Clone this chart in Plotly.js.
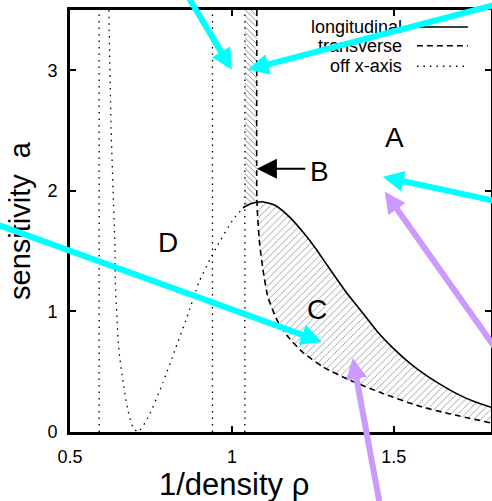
<!DOCTYPE html>
<html><head><meta charset="utf-8">
<script src="https://cdn.plot.ly/plotly-3.0.1.min.js"></script>
<style>html,body{margin:0;padding:0;background:#fff}#chart{width:492px;height:501px}</style>
</head><body><div id="chart"></div>
<script>
// ---- data ----
const rhoRange = [0.5, 1.8];
const aRange = [0, 3.5];
const xTicks = [0.5, 1, 1.5];
const xTickLabels = ['0.5', '1', '1.5'];
const yTicks = [0, 1, 2, 3];
const yTickLabels = ['0', '1', '2', '3'];

// longitudinal (solid)
const longRho = [1.034, 1.056, 1.077, 1.093, 1.133, 1.179, 1.225, 1.262, 1.30, 1.35, 1.40, 1.45, 1.50, 1.55, 1.60, 1.65, 1.70, 1.75, 1.8];
const longA   = [1.86, 1.89, 1.905, 1.91, 1.88, 1.78, 1.64, 1.51, 1.36, 1.17, 1.00, 0.83, 0.69, 0.57, 0.47, 0.385, 0.31, 0.25, 0.205];

// transverse (dashed)
const transRho = [1.077, 1.077, 1.080, 1.086, 1.096, 1.111, 1.139, 1.170, 1.219, 1.281, 1.364, 1.466, 1.571, 1.673, 1.8];
const transA   = [3.5, 1.93, 1.76, 1.55, 1.344, 1.12, 0.93, 0.80, 0.66, 0.54, 0.43, 0.32, 0.22, 0.15, 0.075];

// off x-axis (dotted) curve around region D
const dRho = [0.620, 0.627, 0.633, 0.639, 0.640, 0.645, 0.651, 0.664, 0.679, 0.694, 0.710, 0.741, 0.787, 0.824, 0.861, 0.898, 0.932, 0.954, 1.003, 1.049];
const dA   = [3.5, 2.51, 2.01, 1.51, 1.24, 0.95, 0.68, 0.41, 0.18, 0.04, 0.0, 0.12, 0.41, 0.68, 0.95, 1.24, 1.43, 1.54, 1.76, 1.90];

// off x-axis (dotted) vertical lines
const offAxisVerticals = [0.59, 0.94, 1.04];

// region labels
const regionLabels = ['A', 'B', 'C', 'D'];
const labelRho = [1.503, 1.269, 1.262, 0.802];
const labelA   = [2.44, 2.16, 1.02, 1.57];

// arrows
const arrowTipRho  = [1.000, 1.049, 1.466, 1.278, 1.472, 1.373, 1.077];
const arrowTipA    = [3.004, 3.004, 2.116, 0.747, 1.992, 0.614, 2.183];
const arrowTailRho = [0.852, 1.827, 1.812, 0.253, 1.818, 1.460, 1.231];
const arrowTailA   = [3.668, 3.554, 1.917, 1.743, 0.680, -0.647, 2.183];
const arrowColors  = ['#00ffff', '#00ffff', '#00ffff', '#00ffff', '#cc99ff', '#cc99ff', '#000000'];
const arrowWidths  = [6, 6, 6, 6, 6, 6, 2];

// legend
const legendNames = ['longitudinal', 'transverse', 'off x-axis'];
const legendDash  = ['solid', '6px,4px', '1.5px,5px'];

// ---- build ----
const FONT = 'Liberation Sans, Arial, Helvetica, sans-serif';
const traces = [];

// Region C polygon: under solid, above dashed
const cTopRho = [], cTopA = [];
longRho.forEach((r, i) => { if (r >= transRho[0]) { cTopRho.push(r); cTopA.push(longA[i]); } });
const cBotRho = [], cBotA = [];
transRho.forEach((r, i) => { if (transA[i] < cTopA[0]) { cBotRho.push(r); cBotA.push(transA[i]); } });
traces.push({
  x: cTopRho.concat(cBotRho.slice().reverse()),
  y: cTopA.concat(cBotA.slice().reverse()),
  mode: 'lines', line: {width: 0, color: 'rgba(0,0,0,0)'},
  fill: 'toself', fillcolor: 'rgba(255,255,255,0)',
  fillpattern: {shape: '/', fgcolor: '#8a8a8a', bgcolor: 'rgba(255,255,255,0)', size: 5, solidity: 0.15, fillmode: 'replace'},
  hoverinfo: 'skip', showlegend: false
});

// Region B band: between dotted vertical and dashed vertical, above solid
const bandLeft = offAxisVerticals[2], bandRight = transRho[0];
traces.push({
  x: [bandLeft, bandRight, bandRight, bandLeft],
  y: [aRange[1], aRange[1], longA[2], longA[0]],
  mode: 'lines', line: {width: 0, color: 'rgba(0,0,0,0)'},
  fill: 'toself', fillcolor: 'rgba(255,255,255,0)',
  fillpattern: {shape: '\\', fgcolor: '#707070', bgcolor: 'rgba(255,255,255,0)', size: 4, solidity: 0.2, fillmode: 'replace'},
  hoverinfo: 'skip', showlegend: false
});

// dotted verticals
offAxisVerticals.forEach(v => {
  traces.push({x: [v, v], y: aRange, mode: 'lines',
    line: {color: '#000', width: 1.3, dash: legendDash[2]}, hoverinfo: 'skip', showlegend: false});
});
// dotted D curve
traces.push({x: dRho, y: dA, mode: 'lines', line: {color: '#000', width: 1.3, dash: legendDash[2], shape: 'spline', smoothing: 0.6},
  hoverinfo: 'skip', showlegend: false});
// transverse dashed
traces.push({x: transRho, y: transA, mode: 'lines', line: {color: '#000', width: 1.6, dash: legendDash[1], shape: 'spline', smoothing: 0.5},
  hoverinfo: 'skip', showlegend: false});
// longitudinal solid
traces.push({x: longRho, y: longA, mode: 'lines', line: {color: '#000', width: 1.6, shape: 'spline', smoothing: 0.6},
  hoverinfo: 'skip', showlegend: false});

const annotations = [];
const shapes = [];
// legend
const legendY = [0.960, 0.915, 0.867];
legendNames.forEach((n, i) => {
  annotations.push({xref: 'paper', yref: 'paper', x: 0.793, y: legendY[i], xanchor: 'right', yanchor: 'middle',
    text: n, showarrow: false, font: {family: FONT, size: 18, color: '#000'}});
  shapes.push({type: 'line', xref: 'paper', yref: 'paper', x0: 0.824, x1: 0.945, y0: legendY[i], y1: legendY[i],
    line: {color: '#000', width: 1.5, dash: legendDash[i]}});
});
// region labels
regionLabels.forEach((t, i) => {
  annotations.push({x: labelRho[i], y: labelA[i], text: t, showarrow: false,
    font: {family: FONT, size: 28, color: '#000'}});
});
// axis titles
annotations.push({xref: 'paper', yref: 'paper', x: (234 - 70) / 421, y: (432 - 484) / 422, xanchor: 'center', yanchor: 'middle',
  text: '1/density ρ', showarrow: false, font: {family: FONT, size: 31, color: '#000'}});
annotations.push({xref: 'paper', yref: 'paper', x: (20 - 70) / 421, y: 0.5, xanchor: 'center', yanchor: 'middle', textangle: -90,
  text: 'sensitivity  a', showarrow: false, font: {family: FONT, size: 29, color: '#000'}});
// arrows
arrowTipRho.forEach((r, i) => {
  annotations.push({x: r, y: arrowTipA[i], ax: arrowTailRho[i], ay: arrowTailA[i], axref: 'x', ayref: 'y',
    text: '', showarrow: true, arrowhead: 2, arrowcolor: arrowColors[i], arrowwidth: arrowWidths[i],
    arrowsize: arrowWidths[i] > 3 ? 0.7 : 2.0, standoff: 0, startstandoff: 0});
});

const axisCommon = {
  showgrid: false, zeroline: false, ticks: 'inside', ticklen: 6, tickwidth: 2, tickcolor: '#000',
  showline: true, linewidth: 3, linecolor: '#000', mirror: 'ticks',
  tickfont: {family: FONT, size: 18, color: '#000'}, ticklabelstandoff: 6, fixedrange: true
};

const layout = {
  width: 492, height: 501,
  margin: {l: 70, r: 1, t: 10, b: 69},
  paper_bgcolor: '#fff', plot_bgcolor: '#fff',
  showlegend: false,
  xaxis: Object.assign({}, axisCommon, {range: rhoRange, tickvals: xTicks, ticktext: xTickLabels}),
  yaxis: Object.assign({}, axisCommon, {range: aRange, tickvals: yTicks, ticktext: yTickLabels}),
  annotations: annotations, shapes: shapes
};

Plotly.newPlot('chart', traces, layout, {staticPlot: true, displayModeBar: false});
</script>
</body></html>
